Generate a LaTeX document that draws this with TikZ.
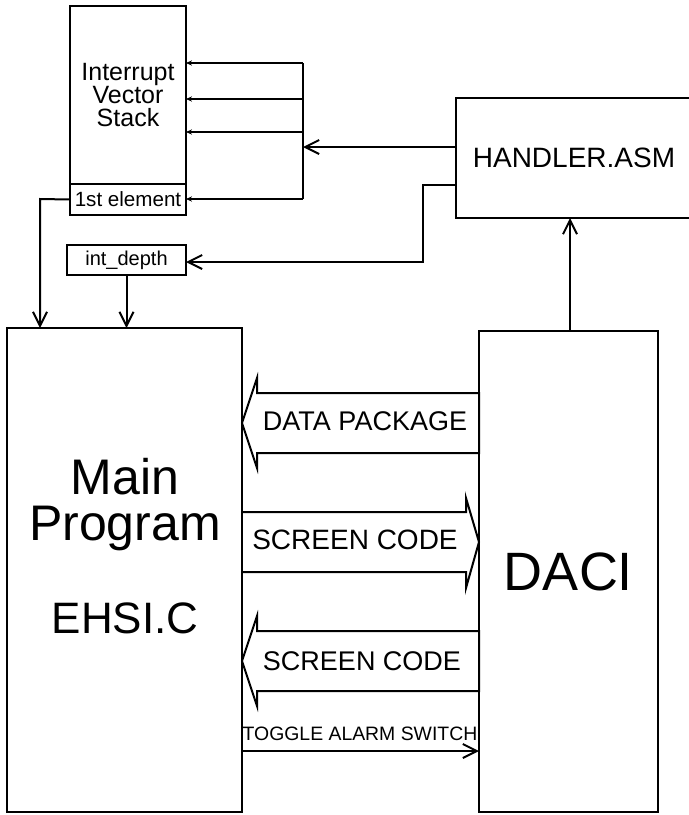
\documentclass[tikz,border=0pt]{standalone}
\usepackage{fontspec}
\setmainfont{Liberation Sans}
\usetikzlibrary{arrows.meta}
\begin{document}
\begin{tikzpicture}[x=0.5pt,y=-0.5pt,line width=1pt,
    box/.style={draw,rectangle,inner sep=0pt,outer sep=0pt},
    barb/.style={-{Straight Barb[length=7pt,width=7pt]}},
    tiny/.style={-{Stealth[length=3pt,width=2.6pt]}},
    fat/.style={draw,line join=miter}]
    \useasboundingbox (0,0) rectangle (689,815);
    \clip (0,0) rectangle (689,815);
    \node[box,minimum width=58pt,minimum height=89pt,align=center,
          font=\fontsize{12.5}{11.5}\selectfont] (stack) at (128,95) {Interrupt\\Vector\\Stack};
    \node[box,minimum width=58pt,minimum height=15.5pt,font=\fontsize{10.3}{11}\selectfont] (first) at (128,199.5) {1st element};
    \node[box,minimum width=59.5pt,minimum height=15pt,font=\fontsize{10}{11}\selectfont] (depth) at (126.5,260) {int\_depth};
    \node[box,minimum width=118pt,minimum height=60pt,font=\fontsize{14}{16}\selectfont] (handler) at (574,158) {HANDLER.ASM};
    \node[box,minimum width=117.5pt,minimum height=242pt] (main) at (124.5,570) {};
    \node[inner sep=0pt,anchor=north,align=center,font=\fontsize{25}{23}\selectfont] (mainlbl) at (125,457)
        {Main\\Program\\[23.5pt]{\fontsize{22}{23}\selectfont EHSI.C}};
    \node[box,minimum width=89.5pt,minimum height=240.5pt,font=\fontsize{27}{30}\selectfont] (daci) at (568.5,571.5) {DACI};
    \coordinate (bustop) at (303,63);
    \coordinate (busbot) at (303,199);
    \draw (bustop) -- (busbot);
    \draw[tiny] (bustop) -- (stack.east |- bustop);
    \draw[tiny] (303,99) -- (stack.east |- 0,99);
    \draw[tiny] (303,132) -- (stack.east |- 0,132);
    \draw[tiny] (busbot) -- (first.east |- busbot);
    \draw[barb] (handler.west |- 0,147) -- (303,147);
    \draw[barb] (handler.west |- 0,185) -- (423,185) -- (423,262) -- (depth.east |- 0,262);
    \draw[barb] (first.west) -- (40,199) -- (main.north -| 40,0);
    \draw[barb] (depth.south) -- (main.north -| depth.south);
    \draw[barb] (daci.north -| 570,0) -- (handler.south -| 570,0);
    \draw[fat] (main.east |- 0,423) -- (257,378) -- (257,393) -- (daci.west |- 0,393)
        -- (daci.west |- 0,453) -- (257,453) -- (257,468) -- cycle;
    \node[font=\fontsize{13.5}{15}\selectfont] (datalbl) at (365,421) {DATA PACKAGE};
    \draw[fat] (main.east |- 0,512) -- (466,512) -- (466,498) -- (daci.west |- 0,542)
        -- (466,588) -- (466,572) -- (main.east |- 0,572);
    \node[font=\fontsize{14}{15}\selectfont] (codelbl) at (355,540) {SCREEN CODE};
    \draw[fat] (main.east |- 0,661) -- (257,616) -- (257,631) -- (daci.west |- 0,631)
        -- (daci.west |- 0,691) -- (257,691) -- (257,706) -- cycle;
    \node[font=\fontsize{13.5}{15}\selectfont] (backlbl) at (362,661) {SCREEN CODE};
    \draw[barb] (main.east |- 0,751) -- (daci.west |- 0,751);
    \node[anchor=base,inner sep=0pt,font=\fontsize{9.7}{11}\selectfont] (togglelbl) at (360,740) {TOGGLE ALARM SWITCH};
\end{tikzpicture}
\end{document}
